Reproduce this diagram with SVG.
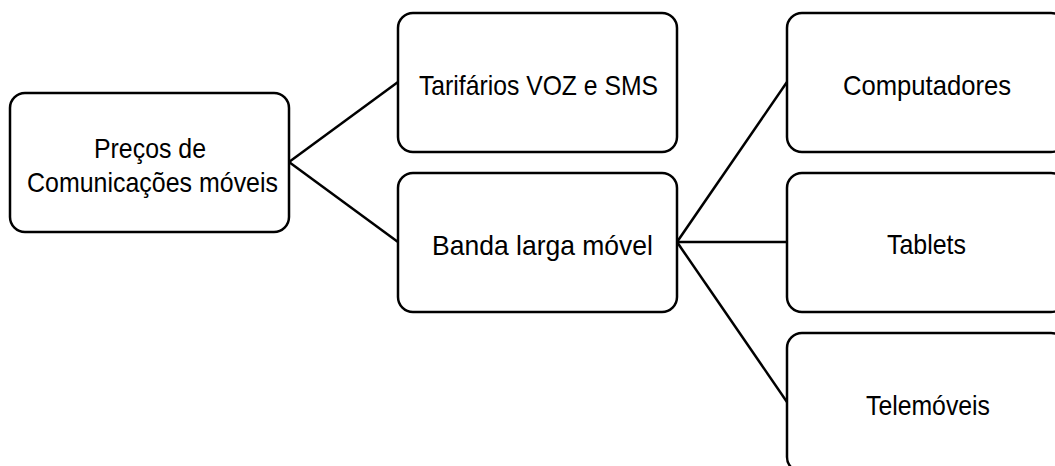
<svg xmlns="http://www.w3.org/2000/svg" width="1055" height="466" viewBox="0 0 1055 466">
  <style>
    .box { fill: #ffffff; stroke: #000000; stroke-width: 2.5; }
    .lbl { font-family: "Liberation Sans", Arial, sans-serif; font-size: 28px; fill: #000000; text-anchor: middle; }
    .edge { stroke: #000000; stroke-width: 2.5; fill: none; }
  </style>
  <rect width="1055" height="466" fill="#ffffff"/>

  <!-- connectors -->
  <g id="connectors">
    <line class="edge" x1="289" y1="162" x2="398" y2="82"/>
    <line class="edge" x1="289" y1="162" x2="398" y2="242"/>
    <line class="edge" x1="677" y1="242" x2="787" y2="82"/>
    <line class="edge" x1="677" y1="242" x2="787" y2="242"/>
    <line class="edge" x1="677" y1="242" x2="787" y2="402"/>
  </g>

  <g id="node-precos">
    <rect class="box" x="10" y="93" width="279" height="139" rx="15"/>
    <text class="lbl" x="150" y="158" textLength="112" lengthAdjust="spacingAndGlyphs">Preços de</text>
    <text class="lbl" x="152.5" y="192" textLength="251" lengthAdjust="spacingAndGlyphs">Comunicações móveis</text>
  </g>

  <g id="node-tarifarios">
    <rect class="box" x="398" y="13" width="279" height="139" rx="15"/>
    <text class="lbl" x="538.5" y="95" textLength="239" lengthAdjust="spacingAndGlyphs">Tarifários VOZ e SMS</text>
  </g>

  <g id="node-banda">
    <rect class="box" x="398" y="173" width="279" height="139" rx="15"/>
    <text class="lbl" x="542.5" y="255" textLength="221" lengthAdjust="spacingAndGlyphs">Banda larga móvel</text>
  </g>

  <g id="node-computadores">
    <rect class="box" x="787" y="13" width="279" height="139" rx="15"/>
    <text class="lbl" x="927" y="95" textLength="168" lengthAdjust="spacingAndGlyphs">Computadores</text>
  </g>

  <g id="node-tablets">
    <rect class="box" x="787" y="173" width="279" height="139" rx="15"/>
    <text class="lbl" x="926.5" y="254" textLength="79" lengthAdjust="spacingAndGlyphs">Tablets</text>
  </g>

  <g id="node-telemoveis">
    <rect class="box" x="787" y="333" width="279" height="139" rx="15"/>
    <text class="lbl" x="928" y="415" textLength="124" lengthAdjust="spacingAndGlyphs">Telemóveis</text>
  </g>
</svg>
